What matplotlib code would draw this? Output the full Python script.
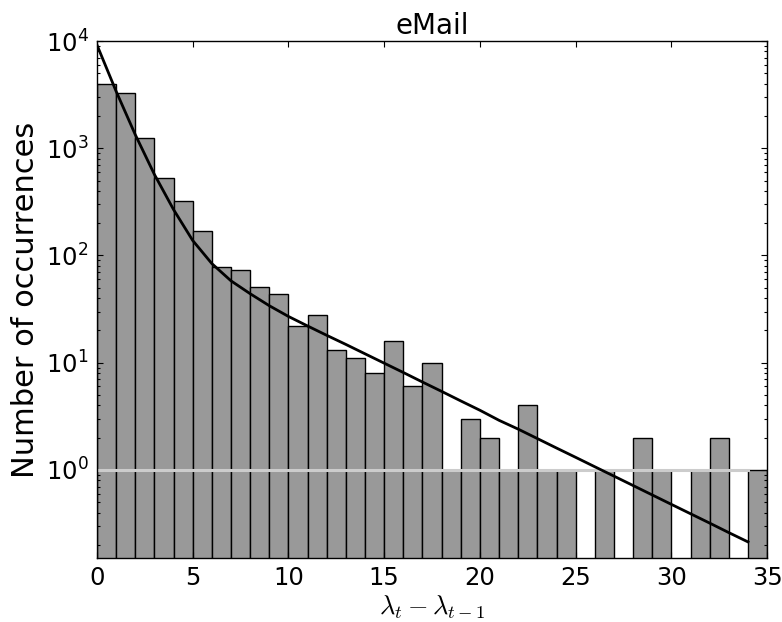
#!/usr/bin/env python3
# -*- coding: utf-8 -*-

import numpy as np
import matplotlib
matplotlib.use("Agg")
import matplotlib.pyplot as plt
from matplotlib.ticker import LogLocator, NullFormatter

# histogram of lambda differences, one bin per unit (left edges 0..34)
bin_left = list(range(35))
counts = [4000, 3300, 1260, 525, 320, 168, 78, 73, 51, 44,
          22, 28, 13, 11, 8, 16, 6, 10, 1, 3,
          2, 1, 4, 1, 1, 0, 1, 0, 2, 1,
          0, 1, 2, 0, 1]

# fitted curve
fit_x = list(range(35))
fit_y = [9200, 3400, 1340, 570, 268, 138, 84, 58, 44, 34,
         27, 22, 18, 14.8, 12.1, 9.9, 8.1, 6.6, 5.4, 4.4,
         3.6, 2.9, 2.4, 1.96, 1.6, 1.31, 1.07, 0.875, 0.715, 0.584,
         0.477, 0.39, 0.319, 0.26, 0.213]

# reference level at one occurrence
ref_x = [0, 34]
ref_y = [1, 1]

plt.rcParams['mathtext.fontset'] = 'cm'

fig = plt.figure(figsize=(7.82, 6.22), dpi=100)
ax = fig.add_axes([0.124, 0.103, 0.857, 0.831])

left = np.array(bin_left)
h = np.array(counts, dtype=float)
mask = h > 0
ax.bar(left[mask], h[mask], width=1.0, align='edge', bottom=1e-3,
       color='#999999', edgecolor='black', linewidth=1.0, zorder=1)

ax.plot(ref_x, ref_y, color='#cccccc', linewidth=2.2, zorder=2)
ax.plot(fit_x, fit_y, color='black', linewidth=2.0, zorder=3)

ax.set_yscale('log')
ax.set_xlim(0, 35)
ax.set_ylim(0.151, 1e4)
ax.set_xticks(range(0, 36, 5))
ax.yaxis.set_major_locator(LogLocator(base=10, numticks=10))
ax.yaxis.set_minor_locator(LogLocator(base=10, subs=np.arange(2, 10), numticks=20))
ax.yaxis.set_minor_formatter(NullFormatter())

ax.tick_params(which='both', direction='in', top=True, right=True,
               labelsize=17.5, pad=6)
ax.tick_params(which='major', length=4.5, width=0.8)
ax.tick_params(which='minor', length=2.4, width=0.8)
for s in ax.spines.values():
    s.set_linewidth(1.0)

ax.set_title('eMail', fontsize=20, pad=5)
ax.set_ylabel('Number of occurrences', fontsize=22, labelpad=4)
ax.set_xlabel(r'$\lambda_t - \lambda_{t-1}$', fontsize=19, labelpad=2)

plt.savefig('out.png', dpi=100)
plt.close(fig)
